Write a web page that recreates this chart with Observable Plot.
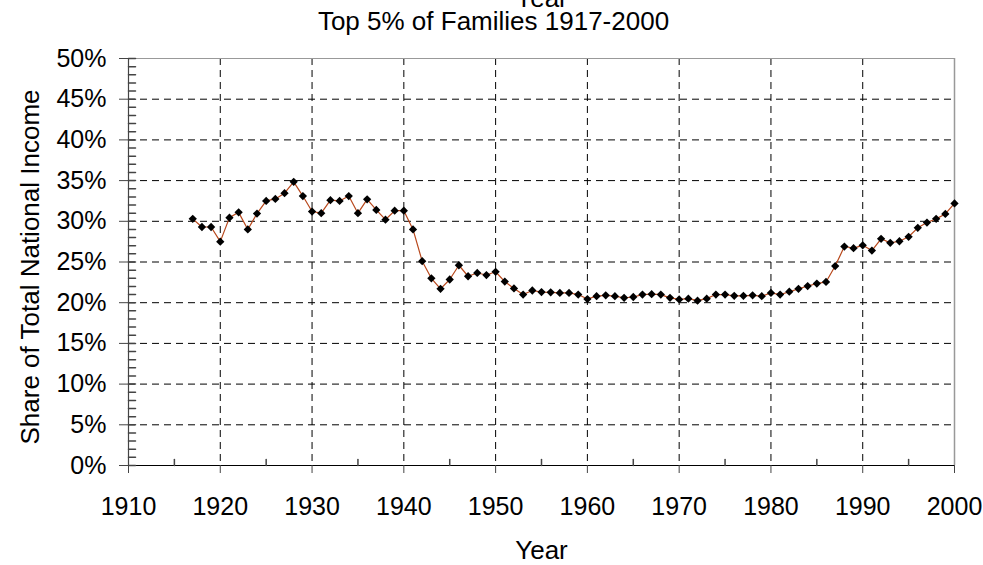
<!DOCTYPE html>
<html>
<head>
<meta charset="utf-8">
<script src="https://cdn.jsdelivr.net/npm/d3@7"></script>
<script src="https://cdn.jsdelivr.net/npm/@observablehq/plot@0.6"></script>
<style>
  html, body { margin: 0; padding: 0; background: #fff; overflow: hidden; }
  #chart svg { display: block; }
</style>
</head>
<body>
<div id="chart"></div>
<script>
const years = d3.range(1917, 2001);
const shares = [
  30.3, 29.3, 29.3, 27.5, 30.45, 31.1, 29.0, 30.95, 32.5, 32.75,
  33.45, 34.85, 33.1, 31.2, 31.0, 32.6, 32.5, 33.1, 31.0, 32.7,
  31.4, 30.2, 31.3, 31.3, 29.0, 25.1, 23.0, 21.7, 22.85, 24.6,
  23.25, 23.65, 23.4, 23.8, 22.6, 21.75, 21.0, 21.5, 21.3, 21.27,
  21.2, 21.2, 21.0, 20.45, 20.8, 20.9, 20.8, 20.6, 20.7, 21.0,
  21.05, 21.0, 20.6, 20.4, 20.5, 20.25, 20.5, 21.0, 21.0, 20.85,
  20.85, 20.9, 20.8, 21.2, 21.0, 21.35, 21.7, 22.05, 22.35, 22.55,
  24.5, 26.9, 26.7, 27.05, 26.4, 27.85, 27.35, 27.55, 28.1, 29.2,
  29.85, 30.3, 30.9, 32.2
];
const xTicks = d3.range(1910, 2001, 10);
const xMinor = d3.range(1915, 2000, 10);
const yTicks = d3.range(0, 51, 5);
const yMinor = d3.range(0, 51, 1).filter(v => v % 5 !== 0);
const xGrid = d3.range(1920, 1991, 10);
const yGrid = d3.range(5, 46, 5);
const titleText = "Top 5% of Families 1917-2000";
const xLabel = "Year";
const yLabel = "Share of Total National Income";

const data = years.map((y, i) => ({year: y, share: shares[i]}));

const tickShape = {draw(context, l) { context.moveTo(0, 0); context.lineTo(0, -l); }};
const font = "'Liberation Sans', Arial, sans-serif";

const chart = Plot.plot({
  width: 983,
  height: 565,
  marginTop: 58,
  marginBottom: 100,
  marginLeft: 128,
  marginRight: 29,
  style: {fontFamily: font, background: "#fff", overflow: "visible"},
  x: {domain: [1910, 2000]},
  y: {domain: [0, 50]},
  marks: [
    Plot.ruleY(yGrid, {stroke: "#000", strokeWidth: 1, strokeDasharray: "7,5"}),
    Plot.ruleX(xGrid, {stroke: "#000", strokeWidth: 1, strokeDasharray: "7,5"}),
    Plot.ruleY([50], {stroke: "#999", strokeWidth: 1.2}),
    Plot.ruleX([2000], {stroke: "#999", strokeWidth: 1.5}),
    Plot.ruleY([0], {stroke: "#000", strokeWidth: 1.2}),
    Plot.ruleX([1910], {stroke: "#444", strokeWidth: 1.2}),
    Plot.vector(yTicks, {y: d => d, frameAnchor: "left", rotate: 90, length: 7, anchor: "start", shape: tickShape, stroke: "#444"}),
    Plot.vector(yMinor, {y: d => d, frameAnchor: "left", rotate: 90, length: 7, anchor: "start", shape: tickShape, stroke: "#444"}),
    Plot.vector(xMinor, {x: d => d, frameAnchor: "bottom", rotate: 0, length: 6, anchor: "start", shape: tickShape, stroke: "#444"}),
    Plot.axisY({ticks: yTicks, tickSize: 9, tickPadding: 13, tickFormat: d => d + "%", fontSize: 25, label: null, stroke: "#444", fill: "#000"}),
    Plot.axisX({ticks: xTicks, tickSize: 8, tickPadding: 24, tickFormat: d => String(d), fontSize: 25, label: null, stroke: "#444", fill: "#000"}),
    Plot.line(data, {x: "year", y: "share", stroke: "#b8481c", strokeWidth: 1.2}),
    Plot.dot(data, {x: "year", y: "share", symbol: "square", r: 3.3, rotate: 45, fill: "#000", stroke: "none"}),
    Plot.text([xLabel], {frameAnchor: "bottom", lineAnchor: "bottom", dy: 93, fontSize: 26, fill: "#000"}),
    Plot.text([titleText], {frameAnchor: "top", lineAnchor: "bottom", dx: -48, dy: -29, fontSize: 26, fill: "#000"}),
    Plot.text([xLabel], {frameAnchor: "top", lineAnchor: "bottom", dy: -52, fontSize: 26, fill: "#000"}),
    Plot.text([yLabel], {frameAnchor: "left", textAnchor: "middle", rotate: -90, dx: -98, dy: 5, fontSize: 26, fill: "#000"})
  ]
});
document.getElementById("chart").appendChild(chart);
</script>
</body>
</html>
